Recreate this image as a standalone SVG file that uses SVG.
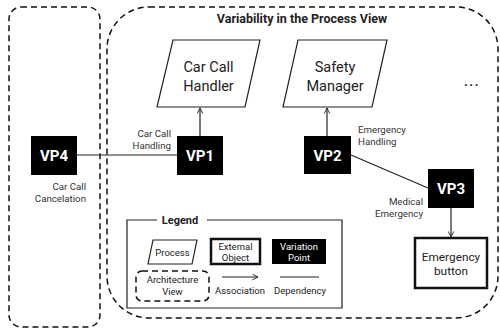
<svg xmlns="http://www.w3.org/2000/svg" width="500" height="330" viewBox="0 0 500 330">
<defs>
<style>
text{font-family:Roboto,"Liberation Sans",sans-serif;fill:#222}
.view{fill:none;stroke:#111;stroke-width:1.5;stroke-dasharray:6 4}
.proc{fill:#fff;stroke:#222;stroke-width:1.2}
.ext{fill:#fff;stroke:#111;stroke-width:2.5}
.vp{fill:#000}
.vpt{fill:#fff;font-weight:bold;font-size:15px;text-anchor:middle}
.big{font-size:14.5px;text-anchor:middle}
.lbl{font-size:9.7px;fill:#333}
.leg{font-size:9.5px;text-anchor:middle}
.line{fill:none;stroke:#222;stroke-width:1.2}
</style>
<marker id="arr" viewBox="0 0 10 10" refX="9" refY="5" markerWidth="7" markerHeight="7" markerUnits="userSpaceOnUse" orient="auto">
<path d="M1,1 L9,5 L1,9" fill="none" stroke="#222" stroke-width="1.3"/>
</marker>
</defs>
<rect fill="#fff" x="0" y="0" width="500" height="330"/>

<g id="view-left">
<rect class="view" x="9" y="7" width="91" height="320" rx="12"/>
</g>
<g id="view-process">
<rect class="view" x="107" y="7" width="391" height="311" rx="42"/>
<text x="302" y="23" font-size="12.5" font-weight="bold" text-anchor="middle">Variability in the Process View</text>
</g>

<g id="connectors">
<line class="line" x1="77" y1="155" x2="177" y2="155"/>
<line class="line" x1="200" y1="136" x2="200" y2="108" marker-end="url(#arr)"/>
<line class="line" x1="327" y1="136" x2="327" y2="108" marker-end="url(#arr)"/>
<line class="line" x1="351" y1="155" x2="428" y2="188"/>
<line class="line" x1="451" y1="208" x2="451" y2="237" marker-end="url(#arr)"/>
<text class="lbl" x="171" y="137" text-anchor="end">Car Call</text>
<text class="lbl" x="171" y="148.5" text-anchor="end">Handling</text>
<text class="lbl" x="86" y="190" text-anchor="end">Car Call</text>
<text class="lbl" x="86" y="201.5" text-anchor="end">Cancelation</text>
<text class="lbl" x="358" y="133" text-anchor="start">Emergency</text>
<text class="lbl" x="358" y="144.5" text-anchor="start">Handling</text>
<text class="lbl" x="423" y="205" text-anchor="end">Medical</text>
<text class="lbl" x="423" y="216.5" text-anchor="end">Emergency</text>
</g>

<g id="car-call-handler">
<polygon class="proc" points="173,40 260,40 245,107 157,107"/>
<text class="big" x="208.5" y="72">Car Call</text>
<text class="big" x="208.5" y="91">Handler</text>
</g>
<g id="safety-manager">
<polygon class="proc" points="298,40 387,40 372,107 283,107"/>
<text class="big" x="335" y="72">Safety</text>
<text class="big" x="335" y="91">Manager</text>
</g>
<g id="ellipsis">
<text x="472" y="86" font-size="13" font-weight="bold" letter-spacing="1.5" text-anchor="middle">...</text>
</g>

<g id="vp4"><rect class="vp" x="31" y="136" width="46" height="39"/><text class="vpt" x="54" y="161">VP4</text></g>
<g id="vp1"><rect class="vp" x="177" y="136" width="46" height="39"/><text class="vpt" x="200" y="161">VP1</text></g>
<g id="vp2"><rect class="vp" x="304" y="136" width="47" height="38"/><text class="vpt" x="327.5" y="161">VP2</text></g>
<g id="vp3"><rect class="vp" x="428" y="169" width="46" height="39"/><text class="vpt" x="451" y="194">VP3</text></g>

<g id="emergency-button">
<rect class="ext" x="415" y="238" width="72" height="50"/>
<text x="451" y="261" font-size="11.8" text-anchor="middle">Emergency</text>
<text x="451" y="275" font-size="11.8" text-anchor="middle">button</text>
</g>

<g id="legend">
<path class="line" d="M157,220 H127 V308 H342 V220 H207"/>
<text x="180" y="224" font-size="11" font-weight="bold" text-anchor="middle">Legend</text>
<polygon class="proc" points="153,240 197,240 192,264 148,264"/>
<text class="leg" x="172.5" y="255.5">Process</text>
<rect class="ext" x="211" y="239" width="49" height="25"/>
<text class="leg" x="235.5" y="249.5">External</text>
<text class="leg" x="235.5" y="260.5">Object</text>
<rect class="vp" x="272" y="239" width="54" height="25"/>
<text class="leg" x="299" y="249.5" style="fill:#fff">Variation</text>
<text class="leg" x="299" y="260.5" style="fill:#fff">Point</text>
<rect class="view" x="136" y="271" width="73" height="30" rx="6"/>
<text class="leg" x="172.5" y="283">Architecture</text>
<text class="leg" x="172.5" y="295">View</text>
<line class="line" x1="222" y1="277" x2="258" y2="277" marker-end="url(#arr)"/>
<text class="leg" x="240" y="294">Association</text>
<line class="line" x1="280" y1="277" x2="319" y2="277"/>
<text class="leg" x="300" y="294">Dependency</text>
</g>
</svg>
